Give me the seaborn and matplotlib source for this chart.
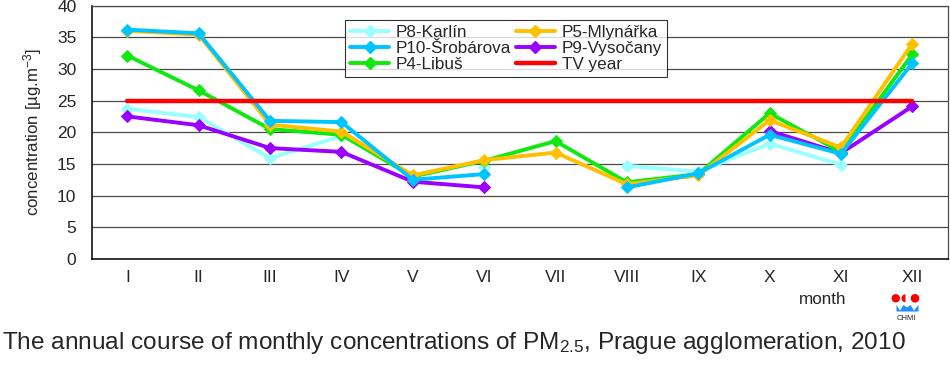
import numpy as np
import pandas as pd
import matplotlib
matplotlib.use('Agg')
import matplotlib.pyplot as plt
import seaborn as sns
from matplotlib.lines import Line2D
from matplotlib.patches import Circle, Wedge, Polygon

# Datos (PM2.5, Praga 2010)
meses = ['I', 'II', 'III', 'IV', 'V', 'VI', 'VII', 'VIII', 'IX', 'X', 'XI', 'XII']
nan = np.nan
p8_karlin = [23.7, 22.4, 15.9, 19.4, nan, 14.5, nan, 14.7, 13.8, 18.2, 14.9, nan]
p10_srobarova = [36.2, 35.6, 21.8, 21.6, 12.5, 13.4, nan, 11.3, 13.5, 19.6, 16.6, 30.9]
p4_libus = [32.1, 26.6, 20.5, 19.6, 13.0, 15.5, 18.6, 12.1, 13.4, 23.0, 16.9, 32.3]
p5_mlynarka = [36.0, 35.4, 21.2, 20.1, 13.2, 15.6, 16.8, 11.8, 13.2, 21.9, 17.6, 34.0]
p9_vysocany = [22.5, 21.1, 17.5, 16.9, 12.2, 11.3, nan, nan, nan, 20.2, 16.7, 24.1]
tv_year = [25] * 12

series = [
    ('P8-Karlín', p8_karlin, '#99FFFF'),
    ('P9-Vysočany', p9_vysocany, '#9900FF'),
    ('P4-Libuš', p4_libus, '#10E810'),
    ('P5-Mlynářka', p5_mlynarka, '#FFC000'),
    ('P10-Šrobárova', p10_srobarova, '#00C4FF'),
]
orden_leyenda = ['P8-Karlín', 'P10-Šrobárova', 'P4-Libuš', 'P5-Mlynářka', 'P9-Vysočany', 'TV year']

sns.set_style('white')
plt.rcParams['font.family'] = ['Liberation Sans', 'DejaVu Sans']
plt.rcParams['mathtext.default'] = 'regular'

fig = plt.figure(figsize=(9.5, 3.7), dpi=100)
ax = fig.add_axes([91.7 / 950, 1 - 259 / 370, (948 - 91.7) / 950, (259 - 5.5) / 370])

x = np.arange(len(meses))


def tramos(valores):
    """Devuelve tramos contiguos sin huecos."""
    v = np.array(valores, dtype=float)
    ok = ~np.isnan(v)
    partes, actual = [], []
    for i in range(len(v)):
        if ok[i]:
            actual.append(i)
        elif actual:
            partes.append(actual)
            actual = []
    if actual:
        partes.append(actual)
    return [(x[p], v[p]) for p in partes]


handles = {}
for nombre, valores, color in series:
    for xs, ys in tramos(valores):
        df = pd.DataFrame({'mes': xs, 'valor': ys})
        sns.lineplot(data=df, x='mes', y='valor', ax=ax, color=color, lw=2.8,
                     marker='D', markersize=6, markeredgecolor=color, zorder=3)
    handles[nombre] = Line2D([], [], color=color, lw=2.8, marker='D', markersize=6,
                             markeredgecolor=color)

df_tv = pd.DataFrame({'mes': x, 'valor': tv_year})
sns.lineplot(data=df_tv, x='mes', y='valor', ax=ax, color='#FF0000', lw=3.2, zorder=3)
handles['TV year'] = Line2D([], [], color='#FF0000', lw=3.2)

ax.set_xlim(-0.5, 11.5)
ax.set_ylim(0, 40)
ax.set_yticks(np.arange(0, 41, 5))
ax.set_xticks(x)
ax.set_xticklabels(meses)
ax.set_xticks(np.arange(-0.5, 12, 1), minor=True)
ax.tick_params(axis='x', which='major', length=0, labelsize=12.5, pad=8)
ax.tick_params(axis='x', which='minor', length=4, width=0.8, color='#444444', direction='out')
ax.tick_params(axis='y', length=4, width=0.8, color='#444444', direction='out', labelsize=12.5, pad=7)
ax.yaxis.grid(True, color='#4a4a4a', lw=0.9)
ax.set_axisbelow(True)
ax.set_xlabel('')
ax.set_ylabel('concentration [µg.m$^{-3}$]', fontsize=12.2, labelpad=9)
for lado in ['left', 'bottom']:
    ax.spines[lado].set_color('black')
    ax.spines[lado].set_linewidth(1.1)
for lado in ['top', 'right']:
    ax.spines[lado].set_color('#4a4a4a')
    ax.spines[lado].set_linewidth(0.9)

leg = ax.legend([handles[n] for n in orden_leyenda], orden_leyenda, ncol=2, loc='upper left',
                bbox_to_anchor=(0.296, 0.943), borderaxespad=0, fontsize=12.3, frameon=True,
                fancybox=False, edgecolor='black', handlelength=2.3, labelspacing=0.07,
                columnspacing=0.25, borderpad=0.28, handletextpad=0.4, numpoints=1)
leg.get_frame().set_linewidth(0.8)

fig.text(823 / 950, 1 - 300 / 370, 'month', ha='center', va='center', fontsize=12.3)
fig.text(2 / 950, 1 - 343 / 370,
         'The annual course of monthly concentrations of PM$_{2.5}$, Prague agglomeration, 2010',
         ha='left', va='center', fontsize=17.6)

# Logo CHMI aproximado
logo = fig.add_axes([885 / 950, 1 - 325 / 370, 40 / 950, 37 / 370])
logo.set_xlim(885, 925)
logo.set_ylim(325, 288)
logo.set_aspect('equal')
logo.axis('off')
logo.add_patch(Circle((895.8, 298.3), 4.2, color='#FF0000', lw=0))
logo.add_patch(Wedge((905.5, 298.3), 4.0, 90, 270, color='#FF0000', lw=0))
logo.add_patch(Circle((915, 298.3), 4.3, color='#FF0000', lw=0))
ola = [(896.5, 305), (900, 310.5), (903.5, 305), (907, 307.5), (910.5, 305), (914, 310.5),
       (918.5, 305), (918.5, 311.5), (896.5, 311.5)]
logo.add_patch(Polygon(ola, closed=True, color='#1E90FF', lw=0))
logo.text(906.7, 319, 'CHMI', ha='center', va='center', fontsize=5.5)

plt.savefig('out.png', dpi=100)
